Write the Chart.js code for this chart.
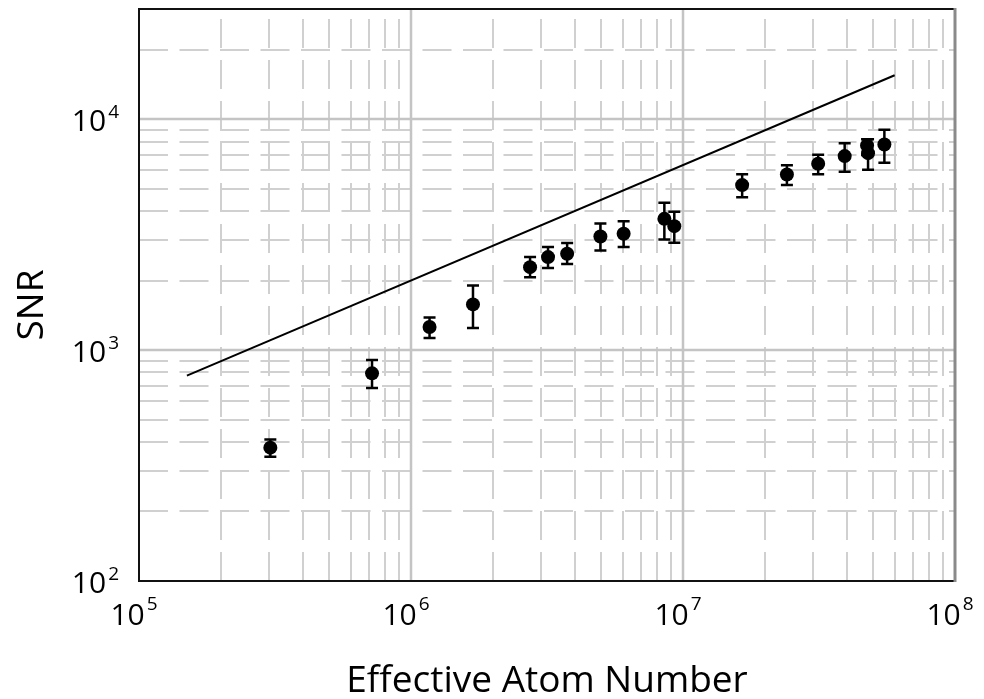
<!DOCTYPE html>
<html>
<head>
<meta charset="utf-8">
<script src="https://cdn.jsdelivr.net/npm/chart.js@4.4.0/dist/chart.umd.min.js"></script>
<style>
  html, body { margin: 0; padding: 0; background: #fff; }
  #wrap { width: 984px; height: 699px; position: relative; }
</style>
</head>
<body>
<div id="wrap"><canvas id="snrChart"></canvas></div>
<script>
  // effective atom number vs SNR
  const atoms = [3.04e5, 7.19e5, 1.17e6, 1.69e6, 2.74e6, 3.19e6, 3.75e6, 4.97e6, 6.05e6,
    8.54e6, 9.29e6, 1.65e7, 2.41e7, 3.14e7, 3.93e7, 4.75e7, 4.79e7, 5.5e7];
  const snr = [378, 793, 1258, 1577, 2287, 2527, 2612, 3106, 3188,
    3702, 3442, 5183, 5763, 6409, 6918, 7693, 7126, 7772];
  const snrLow = [345, 685, 1127, 1245, 2070, 2265, 2357, 2702, 2792,
    3015, 2914, 4596, 5183, 5778, 5914, 7000, 6033, 6471];
  const snrHigh = [410, 905, 1385, 1905, 2527, 2792, 2906, 3535, 3617,
    4343, 3970, 5778, 6320, 7005, 7870, 8195, 8195, 8991];

  // shot-noise reference line
  const limitX = [1.5e5, 6e7];
  const limitY = [775, 15500];

  const xDecades = [1e5, 1e6, 1e7, 1e8];
  const xExp = ["5", "6", "7", "8"];
  const yDecades = [1e2, 1e3, 1e4];
  const yExp = ["2", "3", "4"];

  const xTitle = "Effective Atom Number";
  const yTitle = "SNR";

  const FONT = "'Open Sans', 'Noto Sans', sans-serif";

  // ---------------------------
  // grid + frame + labels
  // ---------------------------
  const frameAndGrid = {
    id: "frameAndGrid",
    beforeDatasetsDraw(chart) {
      const { ctx, chartArea: a, scales } = chart;
      const xs = scales.x, ys = scales.y;
      ctx.save();

      // minor lines, dashed
      ctx.strokeStyle = "#d0d0d0";
      ctx.lineWidth = 2;
      ctx.setLineDash([29, 12]);
      for (let d = 1e5; d < 1e8; d *= 10) {
        for (let m = 2; m <= 9; m++) {
          const px = Math.round(xs.getPixelForValue(d * m));
          ctx.beginPath();
          ctx.moveTo(px, a.bottom);
          ctx.lineTo(px, a.top);
          ctx.stroke();
        }
      }
      ctx.setLineDash([29, 11.5]);
      for (let d = 1e2; d < 3e4; d *= 10) {
        for (let m = 2; m <= 9; m++) {
          if (d * m > 3e4) break;
          const py = Math.round(ys.getPixelForValue(d * m));
          ctx.beginPath();
          ctx.moveTo(a.left, py);
          ctx.lineTo(a.right, py);
          ctx.stroke();
        }
      }

      // decade lines, solid
      ctx.setLineDash([]);
      ctx.strokeStyle = "#c4c4c4";
      ctx.lineWidth = 2.5;
      [1e6, 1e7].forEach((v) => {
        const px = Math.round(xs.getPixelForValue(v));
        ctx.beginPath();
        ctx.moveTo(px, a.top);
        ctx.lineTo(px, a.bottom);
        ctx.stroke();
      });
      [1e3, 1e4].forEach((v) => {
        const py = Math.round(ys.getPixelForValue(v));
        ctx.beginPath();
        ctx.moveTo(a.left, py);
        ctx.lineTo(a.right, py);
        ctx.stroke();
      });

      // error bars
      ctx.strokeStyle = "#000";
      ctx.lineWidth = 2.5;
      for (let i = 0; i < atoms.length; i++) {
        const px = xs.getPixelForValue(atoms[i]);
        const lo = ys.getPixelForValue(snrLow[i]);
        const hi = ys.getPixelForValue(snrHigh[i]);
        ctx.beginPath();
        ctx.moveTo(px, lo);
        ctx.lineTo(px, hi);
        ctx.moveTo(px - 6, lo);
        ctx.lineTo(px + 6, lo);
        ctx.moveTo(px - 6, hi);
        ctx.lineTo(px + 6, hi);
        ctx.stroke();
      }
      ctx.restore();
    },
    afterDraw(chart) {
      const { ctx, chartArea: a, scales } = chart;
      const xs = scales.x, ys = scales.y;
      ctx.save();

      // frame
      ctx.strokeStyle = "#111";
      ctx.lineWidth = 2;
      ctx.beginPath();
      ctx.moveTo(a.right, a.top);
      ctx.lineTo(a.left, a.top);
      ctx.lineTo(a.left, a.bottom);
      ctx.lineTo(a.right, a.bottom);
      ctx.stroke();
      ctx.strokeStyle = "#8a8a8a";
      ctx.lineWidth = 3;
      ctx.beginPath();
      ctx.moveTo(a.right, a.top - 1);
      ctx.lineTo(a.right, a.bottom + 1);
      ctx.stroke();

      ctx.fillStyle = "#000";
      ctx.textBaseline = "alphabetic";
      const baseFont = "30px " + FONT;
      const supFont = "19px " + FONT;

      // x tick labels
      xDecades.forEach((v, i) => {
        const px = xs.getPixelForValue(v);
        ctx.font = baseFont;
        const w1 = ctx.measureText("10").width;
        ctx.font = supFont;
        const w2 = ctx.measureText(xExp[i]).width;
        const left = px - 5 - (w1 + 2 + w2) / 2;
        ctx.textAlign = "left";
        ctx.font = baseFont;
        ctx.fillText("10", left, a.bottom + 44);
        ctx.font = supFont;
        ctx.fillText(xExp[i], left + w1 + 2, a.bottom + 29);
      });

      // y tick labels
      yDecades.forEach((v, i) => {
        const py = ys.getPixelForValue(v);
        ctx.font = supFont;
        const w2 = ctx.measureText(yExp[i]).width;
        ctx.textAlign = "left";
        const right = a.left - 20;
        ctx.fillText(yExp[i], right - w2, py - 1);
        ctx.font = baseFont;
        ctx.textAlign = "right";
        ctx.fillText("10", right - w2 - 2, py + 12);
      });

      // axis titles
      ctx.font = "37px " + FONT;
      ctx.textAlign = "center";
      ctx.fillText(xTitle, (a.left + a.right) / 2, 692);

      ctx.translate(43, 305);
      ctx.rotate(-Math.PI / 2);
      ctx.fillText(yTitle, 0, 0);
      ctx.restore();
    }
  };

  new Chart(document.getElementById("snrChart"), {
    type: "scatter",
    data: {
      datasets: [
        {
          label: "limit",
          data: limitX.map((x, i) => ({ x, y: limitY[i] })),
          showLine: true,
          borderColor: "#000",
          borderWidth: 2,
          pointRadius: 0,
          fill: false
        },
        {
          label: "data",
          data: atoms.map((x, i) => ({ x, y: snr[i] })),
          pointRadius: 7,
          pointBackgroundColor: "#000",
          pointBorderColor: "#000",
          pointBorderWidth: 0
        }
      ]
    },
    plugins: [frameAndGrid],
    options: {
      responsive: true,
      maintainAspectRatio: false,
      animation: false,
      layout: { padding: { left: 139, right: 29, top: 9, bottom: 118 } },
      plugins: {
        legend: { display: false },
        tooltip: { enabled: false }
      },
      scales: {
        x: { type: "logarithmic", min: 1e5, max: 1e8, display: false },
        y: { type: "logarithmic", min: 100, max: 3e4, display: false }
      }
    }
  });
</script>
</body>
</html>
